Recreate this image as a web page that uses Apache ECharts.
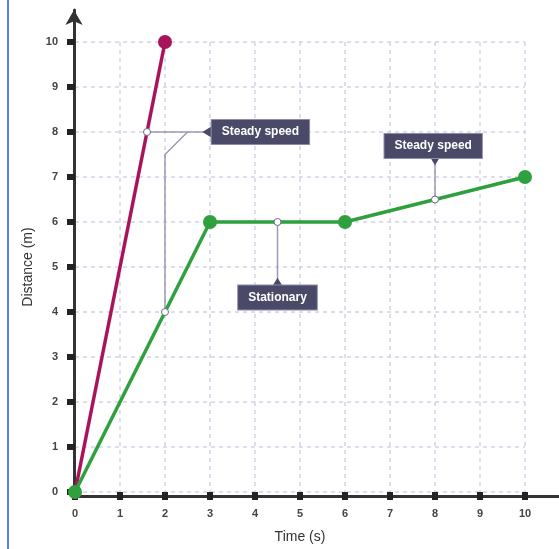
<!DOCTYPE html>
<html><head><meta charset="utf-8">
<script src="https://cdn.jsdelivr.net/npm/echarts@6/dist/echarts.min.js"></script>
<style>
html,body{margin:0;padding:0;background:#fff;}
#wrap{position:relative;width:559px;height:549px;}
#edge{position:absolute;left:7px;top:0;width:2px;height:549px;background:#5b82e0;}
#c{position:absolute;left:0;top:0;width:559px;height:549px;}
</style></head>
<body><div id="wrap"><div id="c"></div><div id="edge"></div></div>
<script>
const xTicks = [0,1,2,3,4,5,6,7,8,9,10];
const yTicks = [0,1,2,3,4,5,6,7,8,9,10];
const fastWalker = [[0,0],[2,10]];
const slowWalker = [[0,0],[3,6],[6,6],[10,7]];
const markedPoints = [[1.6,8],[2,4],[4.5,6],[8,6.5]];
const connectorA1 = [[1.6,8],[2.96,8]];
const connectorA2 = [[2,4],[2,7.5],[2.5,8]];
const connectorB = [[4.5,6],[4.5,4.6]];
const connectorC = [[8,6.5],[8,7.4]];
const labelTexts = ['Steady speed','Stationary','Steady speed'];
const labelPos = [[4.12,8],[4.5,4.32],[7.96,7.69]];
const pointerPos = [[2.93,8],[4.5,4.66],[8,7.36]];
const pointerRot = [90,0,180];

const FONT = '"Liberation Sans", Arial, sans-serif';
const chart = echarts.init(document.getElementById('c'), null, {renderer:'canvas'});
const connStyle = {color:'#9a9ab6', width:1.5};
function conn(data){
  return {type:'line', data:data, symbol:'none', silent:true, z:3,
    lineStyle:connStyle, itemStyle:{color:'#9a9ab6'}};
}
chart.setOption({
  animation:false,
  grid:[
    {left:75, right:34, top:42, bottom:53},
    {left:74, right:0, top:10, bottom:53}
  ],
  xAxis:[
    {type:'value', gridIndex:0, min:0, max:10, interval:1,
     axisLine:{show:false},
     axisTick:{show:true, length:8, lineStyle:{color:'#222', width:6}},
     axisLabel:{margin:16, fontSize:11, fontWeight:'bold', color:'#444', fontFamily:FONT,
       formatter:function(v){return xTicks.indexOf(v)>=0? String(v):'';}},
     splitLine:{show:true, lineStyle:{color:'#d2d2e8', width:1.5, type:[4,4]}},
     name:'Time (s)', nameLocation:'middle', nameGap:38,
     nameTextStyle:{fontSize:14, color:'#333', fontFamily:FONT}},
    {type:'value', gridIndex:1, min:0, max:1,
     axisLine:{show:true, lineStyle:{color:'#333', width:3}},
     axisTick:{show:false}, axisLabel:{show:false}, splitLine:{show:false}}
  ],
  yAxis:[
    {type:'value', gridIndex:0, min:0, max:10, interval:1,
     axisLine:{show:false},
     axisTick:{show:true, length:8, lineStyle:{color:'#222', width:6}},
     axisLabel:{margin:17, fontSize:11, fontWeight:'bold', color:'#444', fontFamily:FONT,
       formatter:function(v){return yTicks.indexOf(v)>=0? String(v):'';}},
     splitLine:{show:true, lineStyle:{color:'#d2d2e8', width:1.5, type:[4,4]}},
     name:'Distance (m)', nameLocation:'middle', nameGap:38,
     nameTextStyle:{fontSize:14, color:'#333', fontFamily:FONT}},
    {type:'value', gridIndex:1, min:0, max:1,
     axisLine:{show:true, symbol:['none','arrow'], symbolSize:[13,15], lineStyle:{color:'#333', width:3}},
     axisTick:{show:false}, axisLabel:{show:false}, splitLine:{show:false}}
  ],
  series:[
    conn(connectorA1), conn(connectorA2), conn(connectorB), conn(connectorC),
    {type:'line', data:fastWalker.map(function(p,i){return i===0?{value:p,symbol:'none'}:{value:p};}),
     symbol:'circle', symbolSize:14, showSymbol:true, z:4,
     lineStyle:{color:'#a8145c', width:3.5}, itemStyle:{color:'#a8145c'}},
    {type:'line', data:slowWalker, symbol:'circle', symbolSize:14, z:5,
     lineStyle:{color:'#2ea03e', width:3.5}, itemStyle:{color:'#2ea03e'}},
    {type:'scatter', data:markedPoints, symbol:'circle', symbolSize:7, z:6,
     itemStyle:{color:'#fff', borderColor:'#6a6a80', borderWidth:1, opacity:1}},
    {type:'scatter', z:7, symbol:'triangle', symbolSize:[11,9],
     data:pointerPos.map(function(p,i){return {value:p, symbolRotate:pointerRot[i]};}),
     itemStyle:{color:'#4a4968', opacity:1}},
    {type:'scatter', z:8, symbolSize:1, itemStyle:{color:'rgba(0,0,0,0)', opacity:1},
     data:labelPos.map(function(p,i){return {value:p, name:labelTexts[i]};}),
     label:{show:true, position:'inside', formatter:'{b}', color:'#fff', fontSize:12,
       fontWeight:'bold', fontFamily:FONT, backgroundColor:'#4a4968',
       borderColor:'#8c8cab', borderWidth:1, padding:[6,10,6,10]}}
  ]
});
</script></body></html>
